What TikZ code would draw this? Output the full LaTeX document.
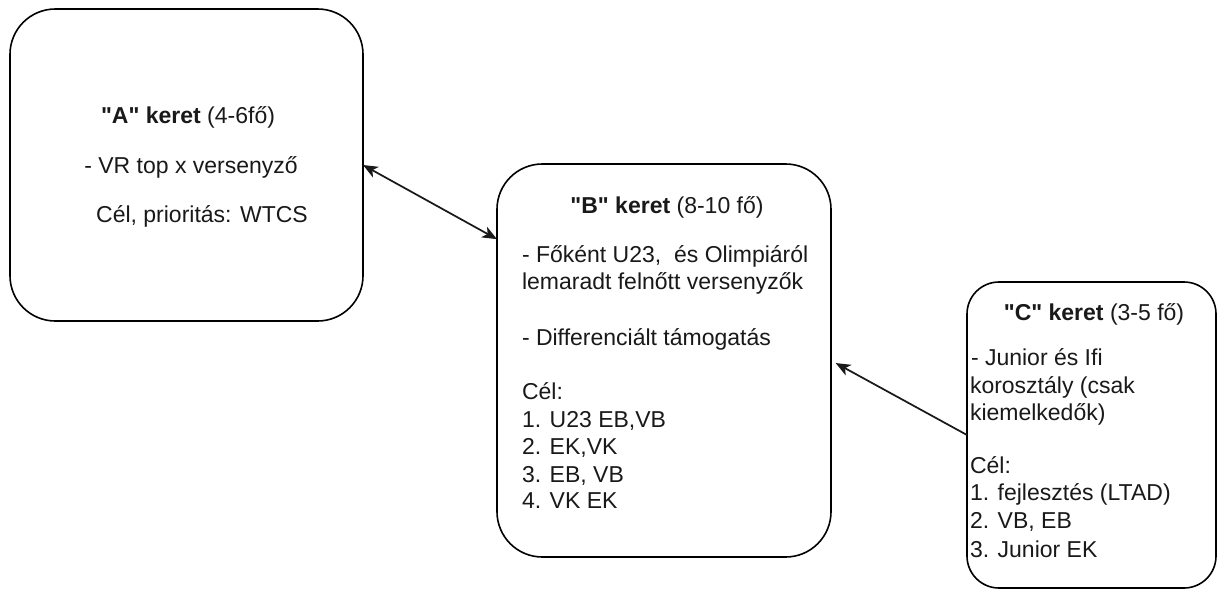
\documentclass[tikz,border=0pt]{standalone}
\usepackage{fontspec}
\setmainfont{Liberation Sans}
\usetikzlibrary{arrows.meta}
\newcommand{\qq}{\textquotedbl}
\begin{document}
\begin{tikzpicture}[x=0.75pt,y=-0.75pt,
  box/.style={draw=black, line width=1.2pt, fill=white, inner sep=0pt, outer sep=0pt},
  txt/.style={inner sep=0pt, outer sep=0pt, font=\fontsize{17.25pt}{20.7pt}\selectfont, text=black!90},
  lt/.style={txt, anchor=base west},
  ct/.style={txt, anchor=base},
  conn/.style={line width=1.3pt, draw=black!90}
]
\useasboundingbox (0,0) rectangle (1217,589);

% boxes
\node[box, rounded corners=34pt, minimum width=264.75pt, minimum height=234pt] (A) at (186.5,165) {};
\node[box, rounded corners=34pt, minimum width=250.5pt, minimum height=294.75pt] (B) at (664,360.5) {};
\node[box, rounded corners=24pt, minimum width=186.75pt, minimum height=229.5pt] (C) at (1091.5,435) {};

% box A text
\node[ct] (a1) at (188,123) {\textbf{\qq A\qq{} keret} (4-6fő)};
\node[ct] (a2) at (191,173) {- VR top x versenyző};
\node[ct] (a3) at (202,222) {Cél, prioritás: WTCS};

% box B text
\node[ct] (b1) at (667,213) {\textbf{\qq B\qq{} keret} (8-10 fő)};
\node[lt] (b2) at (522,262) {- Főként U23,\ \ és Olimpiáról};
\node[lt] (b3) at (522,289) {lemaradt felnőtt versenyzők};
\node[lt] (b4) at (522,345) {- Differenciált támogatás};
\node[lt] (b5) at (522,399) {Cél:};
\node[lt] (b6) at (522,427) {1. U23 EB,VB};
\node[lt] (b7) at (522,454) {2. EK,VK};
\node[lt] (b8) at (522,482) {3. EB, VB};
\node[lt] (b9) at (522,508) {4. VK EK};

% box C text
\node[ct] (c1) at (1094,320) {\textbf{\qq C\qq{} keret} (3-5 fő)};
\node[lt] (c2) at (971,365) {- Junior és Ifi};
\node[lt] (c3) at (970,393) {korosztály (csak};
\node[lt] (c4) at (970,420) {kiemelkedők)};
\node[lt] (c5) at (970,473) {Cél:};
\node[lt] (c6) at (970,500) {1. fejlesztés (LTAD)};
\node[lt] (c7) at (970,528) {2. VB, EB};
\node[lt] (c8) at (970,557) {3. Junior EK};

% connectors
\draw[conn, {Stealth[length=11pt,width=9pt,inset=3pt]}-{Stealth[length=11pt,width=9pt,inset=3pt]}] (A.east) -- (B.144.6);
\draw[conn, -{Stealth[length=11pt,width=9pt,inset=3pt]}, shorten >=4pt] (C.180.5) -- (B.east);
\end{tikzpicture}
\end{document}
